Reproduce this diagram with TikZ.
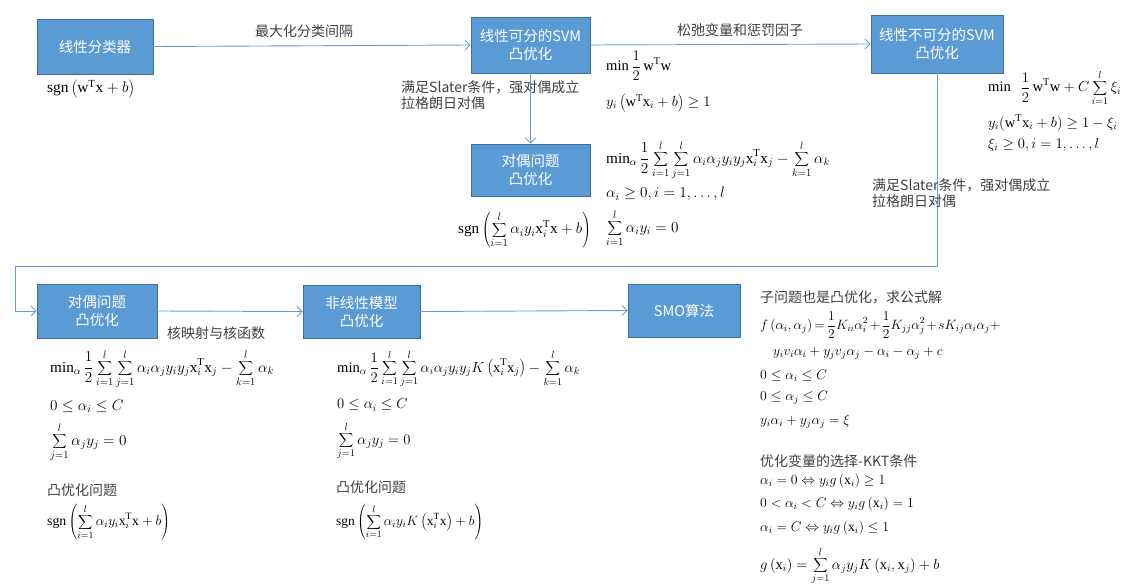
\RequirePackage{fix-cm}
\documentclass[tikz,border=0pt]{standalone}
\usepackage{fontspec}
\setmainfont{Liberation Serif}
\newfontfamily\cjk{Noto Sans CJK SC}
\usetikzlibrary{arrows.meta}
\definecolor{boxfill}{HTML}{5B9BD5}
\definecolor{boxline}{HTML}{41719C}
\definecolor{conn}{HTML}{6A9BD8}
\definecolor{note}{HTML}{404040}
\newcommand{\wv}{\mathrm{w}}
\newcommand{\xv}{\mathrm{x}}
\newcommand{\tT}{\mathrm{T}}
\begin{document}
\begin{tikzpicture}[x=1pt,y=-1pt,
  box/.style={draw=boxline,fill=boxfill,text=white,line width=0.8pt,align=center,inner sep=0pt,
    font=\cjk\fontsize{14.5}{18}\selectfont},
  conn/.style={draw=conn,line width=0.9pt,-{Straight Barb[length=5pt,width=10pt]}},
  fm/.style={anchor=west,inner sep=0pt,font=\fontsize{14.6}{18}\selectfont},
  fmb/.style={fm,font=\fontsize{15.2}{18}\selectfont},
  fmt/.style={fm,font=\fontsize{13.8}{16}\selectfont},
  note/.style={inner sep=0pt,text=note,font=\cjk\fontsize{14}{16}\selectfont,align=left}]
\useasboundingbox (0,0) rectangle (1136,587);

% boxes
\node[box,minimum width=116pt,minimum height=55pt] (b1) at (95,46.5) {线性分类器};
\node[box,minimum width=119pt,minimum height=56pt] (b2) at (530.5,45) {线性可分的SVM\\凸优化};
\node[box,minimum width=132pt,minimum height=58pt] (b3) at (937,44) {线性不可分的SVM\\凸优化};
\node[box,minimum width=119pt,minimum height=52pt] (b4) at (530.5,170) {对偶问题\\凸优化};
\node[box,minimum width=120pt,minimum height=54pt] (b5) at (97,311) {对偶问题\\凸优化};
\node[box,minimum width=117pt,minimum height=53pt] (b6) at (361.5,311.5) {非线性模型\\凸优化};
\node[box,minimum width=112pt,minimum height=53pt] (b7) at (684,310.5) {SMO算法};

% connectors
\coordinate (c1) at (937,266);
\coordinate (c2) at (15,266);
\draw[conn] (b1.east) -- (b2.west);
\draw[conn] (b2.east) -- (b3.west);
\draw[conn] (b2.south) -- (b4.north);
\draw[conn] (b3.south) -- (c1) -- (c2) |- (b5.west);
\draw[conn] (b5.east) -- (b6.west);
\draw[conn] (b6.east) -- (b7.west);

% connector labels
\node[note] (l1) at (304,31) {最大化分类间隔};
\node[note] (l2) at (740,30) {松弛变量和惩罚因子};
\node[note,anchor=west] (l3) at (401,95) {满足Slater条件，强对偶成立\\拉格朗日对偶};
\node[note,anchor=west] (l4) at (872,193) {满足Slater条件，强对偶成立\\拉格朗日对偶};
\node[note] (l5) at (216,333) {核映射与核函数};

% formulas: linear classifier
\node[fm,font=\fontsize{15.5}{18}\selectfont] (f1) at (47,89) {$\mathrm{sgn}\left(\wv^{\tT}\xv+b\right)$};
% separable SVM
\node[fm] (f2) at (606,66) {$\displaystyle \min\frac{1}{2}\,\wv^{\tT}\wv$};
\node[fm] (f3) at (606,103) {$y_i\left(\wv^{\tT}\xv_i+b\right)\geq 1$};
% non-separable SVM
\node[fm] (f4) at (988,88) {$\displaystyle \min\ \ \frac{1}{2}\,\wv^{\tT}\wv+C\sum_{i=1}^{l}\xi_i$};
\node[fm] (f5) at (988,123) {$y_i(\wv^{\tT}\xv_i+b)\geq 1-\xi_i$};
\node[fm] (f6) at (988,145) {$\xi_i\geq 0, i=1,\ldots,l$};
% dual (top)
\node[fmb] (f7) at (606,160) {$\displaystyle \min\nolimits_{\alpha}\frac{1}{2}\sum_{i=1}^{l}\sum_{j=1}^{l}\alpha_i\alpha_jy_iy_j\xv_i^{\tT}\xv_j-\sum_{k=1}^{l}\alpha_k$};
\node[fmb] (f8) at (606,194) {$\alpha_i\geq 0, i=1,\ldots,l$};
\node[fmb] (f9) at (606,228) {$\displaystyle \sum_{i=1}^{l}\alpha_iy_i=0$};
\node[fmb] (f10) at (458,230) {$\displaystyle \mathrm{sgn}\left(\sum_{i=1}^{l}\alpha_iy_i\xv_i^{\tT}\xv+b\right)$};
% dual (bottom)
\node[fmb] (f11) at (50,369) {$\displaystyle \min\nolimits_{\alpha}\frac{1}{2}\sum_{i=1}^{l}\sum_{j=1}^{l}\alpha_i\alpha_jy_iy_j\xv_i^{\tT}\xv_j-\sum_{k=1}^{l}\alpha_k$};
\node[fmb] (f12) at (50,406) {$0\leq\alpha_i\leq C$};
\node[fmb] (f13) at (50,442) {$\displaystyle \sum_{j=1}^{l}\alpha_jy_j=0$};
\node[note,anchor=west] (f14) at (47,490) {凸优化问题};
\node[fm,font=\fontsize{13.8}{16}\selectfont] (f15) at (47,522) {$\displaystyle \mathrm{sgn}\left(\sum_{i=1}^{l}\alpha_iy_i\xv_i^{\tT}\xv+b\right)$};
% nonlinear
\node[fm] (f16) at (337,369) {$\displaystyle \min\nolimits_{\alpha}\frac{1}{2}\sum_{i=1}^{l}\sum_{j=1}^{l}\alpha_i\alpha_jy_iy_jK\left(\xv_i^{\tT}\xv_j\right)-\sum_{k=1}^{l}\alpha_k$};
\node[fm] (f17) at (337,405) {$0\leq\alpha_i\leq C$};
\node[fm] (f18) at (337,441) {$\displaystyle \sum_{j=1}^{l}\alpha_jy_j=0$};
\node[note,anchor=west] (f19) at (336,487) {凸优化问题};
\node[fm,font=\fontsize{13.5}{16}\selectfont] (f20) at (336,522) {$\displaystyle \mathrm{sgn}\left(\sum_{i=1}^{l}\alpha_iy_iK\left(\xv_i^{\tT}\xv\right)+b\right)$};
% SMO
\node[note,anchor=west] (f21) at (760,297) {子问题也是凸优化，求公式解};
\node[fm,font=\fontsize{13.5}{16}\selectfont] (f22) at (760,325) {$\medmuskip=2mu\thickmuskip=3mu\displaystyle f\left(\alpha_i,\alpha_j\right)=\frac{1}{2}K_{ii}\alpha_i^2+\frac{1}{2}K_{jj}\alpha_j^2+sK_{ij}\alpha_i\alpha_j+$};
\node[fmt] (f23) at (773,353) {$y_iv_i\alpha_i+y_jv_j\alpha_j-\alpha_i-\alpha_j+c$};
\node[fmt] (f24) at (760,376) {$0\leq\alpha_i\leq C$};
\node[fmt] (f25) at (760,398) {$0\leq\alpha_j\leq C$};
\node[fmt] (f26) at (760,422) {$y_i\alpha_i+y_j\alpha_j=\xi$};
\node[note,anchor=west] (f27) at (760,461) {优化变量的选择-KKT条件};
\node[fmt] (f28) at (760,481) {$\alpha_i=0\Leftrightarrow y_ig\left(\xv_i\right)\geq 1$};
\node[fmt] (f29) at (760,504) {$0<\alpha_i<C\Leftrightarrow y_ig\left(\xv_i\right)=1$};
\node[fmt] (f30) at (760,528) {$\alpha_i=C\Leftrightarrow y_ig\left(\xv_i\right)\leq 1$};
\node[fm] (f31) at (760,566) {$\displaystyle g\left(\xv_i\right)=\sum_{j=1}^{l}\alpha_jy_jK\left(\xv_i,\xv_j\right)+b$};
\end{tikzpicture}
\end{document}
